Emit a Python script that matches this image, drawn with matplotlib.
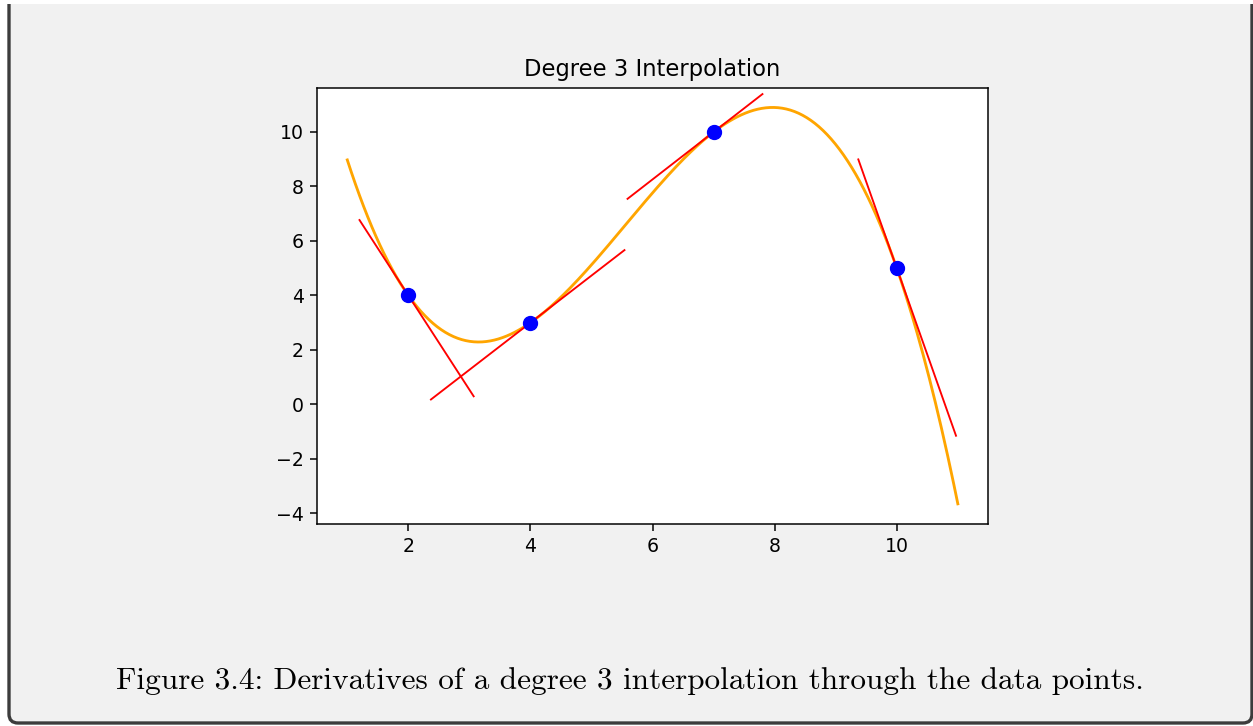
import matplotlib
matplotlib.use('Agg')
import matplotlib.pyplot as plt
import numpy as np
from matplotlib.patches import FancyBboxPatch, Rectangle

# data points and the cubic through them
x_pts = [2, 4, 7, 10]
y_pts = [4, 3, 10, 5]
curve_range = [1, 11]

# tangent lines (slope, left end, right end)
tangent_slopes = [-3.46, 1.73, 1.74, -6.34]
tangent_left = [1.2, 2.37, 5.59, 9.37]
tangent_right = [3.07, 5.54, 7.80, 10.97]

title = 'Degree 3 Interpolation'
caption = 'Figure 3.4: Derivatives of a degree 3 interpolation through the data points.'

W, H = 1253, 726
s = 1.355  # scale of the embedded figure relative to 100 dpi

fig = plt.figure(figsize=(W / 100, H / 100), dpi=100, facecolor='white')

# grey box with dark border (top edge cut off)
box = FancyBboxPatch((9, 3), 1243, 760, boxstyle='round,pad=0,rounding_size=9',
                     transform=None, facecolor='#f1f1f1', edgecolor='#3c3c3c',
                     linewidth=2.4, zorder=-2)
fig.patches.append(box)
fig.patches.append(Rectangle((0, H - 4), W, 10, transform=None, facecolor='white',
                             edgecolor='none', zorder=-1))

ax = fig.add_axes([0.2528, 0.2787, 0.536, 0.6006])
ax.set_facecolor('white')

coef = np.polyfit(x_pts, y_pts, 3)
xs = np.linspace(curve_range[0], curve_range[1], 300)
ax.plot(xs, np.polyval(coef, xs), color='orange', lw=1.5 * s, zorder=2)
ax.scatter(x_pts, y_pts, color='blue', s=100, zorder=3)
ax.autoscale_view()
xlim, ylim = ax.get_xlim(), ax.get_ylim()

for xi, yi, m, lo, hi in zip(x_pts, y_pts, tangent_slopes, tangent_left, tangent_right):
    tx = np.array([lo, hi])
    ax.plot(tx, yi + m * (tx - xi), color='red', lw=1.0 * s, zorder=2.5)
ax.set_xlim(xlim)
ax.set_ylim(ylim)

ax.set_title(title, fontsize=12 * s, pad=6 * s)
ax.tick_params(labelsize=10 * s, length=3.5 * s, width=0.8 * s, pad=3.5 * s)
for sp in ax.spines.values():
    sp.set_linewidth(0.8 * s)

fig.text(630 / W, 1 - 681 / H, caption, fontfamily='cmr10', fontsize=22.5,
         ha='center', va='center')

fig.savefig('out.png', dpi=100, facecolor=fig.get_facecolor())
